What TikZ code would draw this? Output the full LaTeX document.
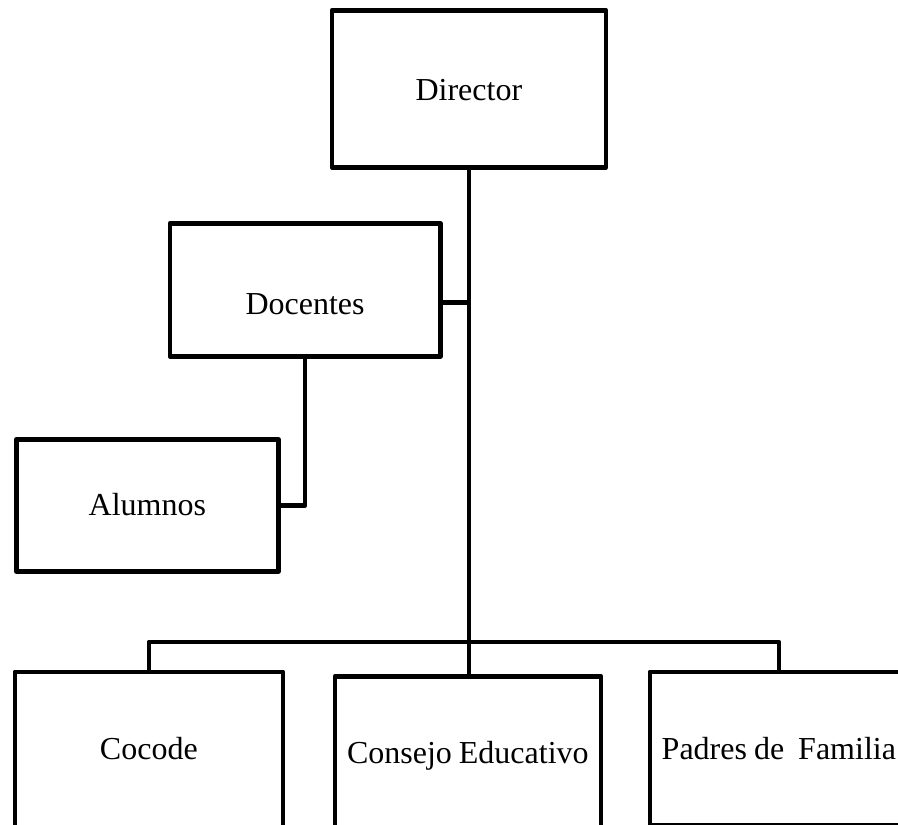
\documentclass[tikz,border=0pt]{standalone}
\usepackage{fontspec}
\setmainfont{Liberation Serif}
\begin{document}
\begin{tikzpicture}[x=1bp,y=-1bp,
  box/.style={draw, line width=4.7bp, line join=round, inner sep=0pt, align=center, anchor=north west,
    font=\fontsize{32bp}{38bp}\selectfont},
  conn/.style={draw, line width=4.7bp, line join=round}]
\clip (0,0) rectangle (898,825);
\fill[white] (0,0) rectangle (898,825);
\node[box, text width=274bp, text height=90bp, text depth=67bp] (dir) at (329.5,8) {Director};
\node[box, text width=270.5bp, text height=91bp, text depth=42bp] (doc) at (167.5,221) {Docentes};
\node[box, text width=262bp, text height=76bp, text depth=56bp] (alu) at (14,437) {Alumnos};
\node[box, text width=268bp, text height=87.5bp, text depth=103bp] (coc) at (12.5,669.5) {Cocode};
\node[box, text width=266bp, text height=87bp, text depth=100bp] (cons) at (332.5,674) {Consejo\hspace{7bp}Educativo};
\node[box, text width=258bp, text height=87.5bp, text depth=65.5bp] (par) at (647.5,669.5) {Padres\hspace{7bp}de\hspace{14bp}Familia};
\coordinate (dy) at (0,302.5);
\coordinate (by) at (0,642);
\draw[conn] (dir.south) -- (dir.south |- cons.north);
\draw[conn] (doc.east |- dy) -- (dir.south |- dy);
\draw[conn] (doc.south) |- (alu.east);
\draw[conn] (coc.north) -- (coc.north |- by) -- (par.north |- by) -- (par.north);
\end{tikzpicture}
\end{document}
